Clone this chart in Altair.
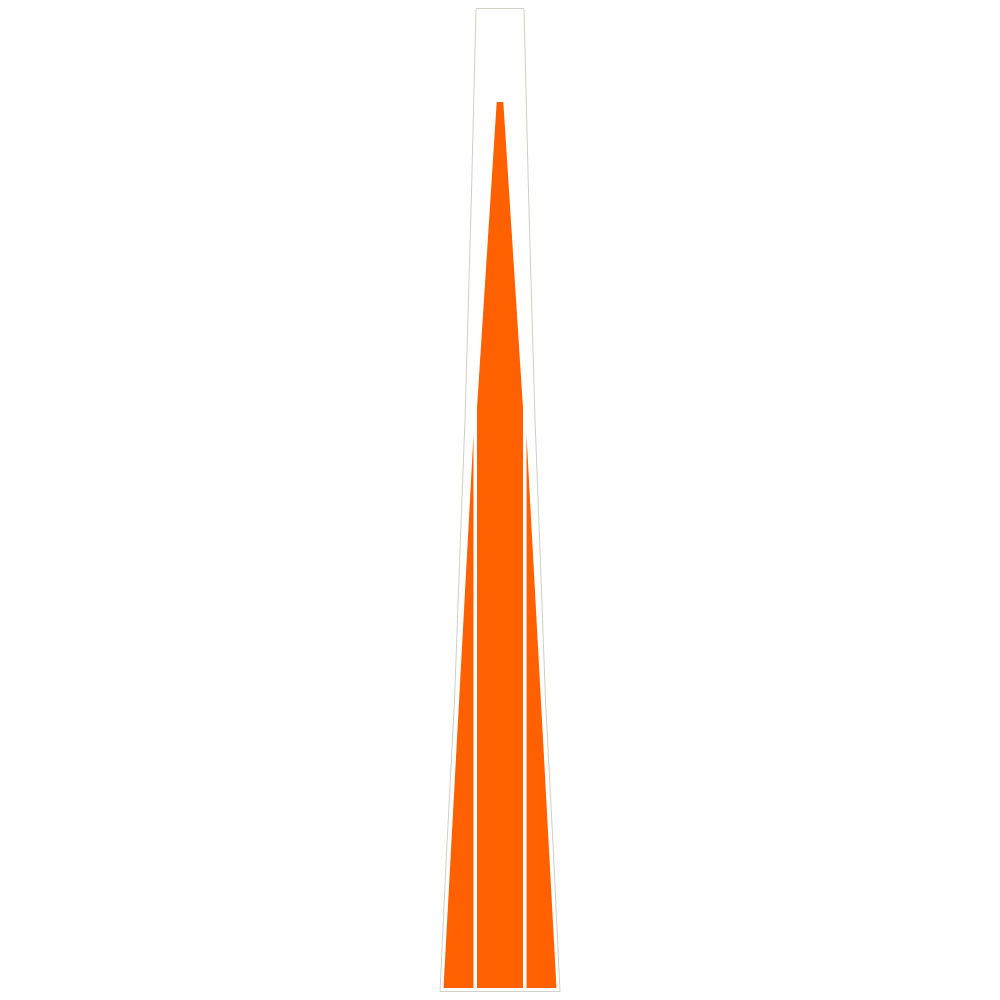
import altair as alt
import pandas as pd

# Outer silhouette (level from ground, half-width)
outline_level = [0.5, 142, 292, 442, 572, 792, 983.5]
outline_half = [60, 53.3, 45.5, 40, 35, 28.7, 24]

# Central core (level, half-width)
core_level = [4, 584, 890]
core_half = [23, 23, 3.3]

# Side wings (level, outer and inner offsets from centre)
wing_level = [4, 557]
wing_outer = [56.5, 26.5]
wing_inner = [26.5, 26.5]

ORANGE = "#ff6100"

outline_df = pd.DataFrame({
    "level": outline_level,
    "left": [-h for h in outline_half],
    "right": outline_half,
})
core_df = pd.DataFrame({
    "level": core_level,
    "left": [-h for h in core_half],
    "right": core_half,
})
wings_rows = []
for lv, o, i in zip(wing_level, wing_outer, wing_inner):
    wings_rows.append({"side": "left", "level": lv, "left": -o, "right": -i})
    wings_rows.append({"side": "right", "level": lv, "left": i, "right": o})
wings_df = pd.DataFrame(wings_rows)

xs = alt.Scale(domain=[-492, 492], nice=False, zero=False)
ys = alt.Scale(domain=[0, 984], nice=False, zero=False)


def enc(chart, detail=None):
    kw = dict(
        y=alt.Y("level:Q", scale=ys, axis=None),
        x=alt.X("left:Q", scale=xs, axis=None),
        x2="right:Q",
    )
    if detail:
        kw["detail"] = detail
    return chart.encode(**kw)


outline = enc(alt.Chart(outline_df).mark_area(
    orient="horizontal", fill="white", stroke="#cfd0c8", strokeWidth=1
))
core = enc(alt.Chart(core_df).mark_area(orient="horizontal", color=ORANGE))
wings = enc(alt.Chart(wings_df).mark_area(orient="horizontal", color=ORANGE), detail="side:N")

chart = alt.layer(outline, core, wings).properties(
    width=984,
    height=984,
    autosize=alt.AutoSizeParams(type="none"),
    padding=0,
    background="white",
).configure_view(strokeWidth=0)

chart.save("out.html", embed_options={"renderer": "svg", "actions": False})
